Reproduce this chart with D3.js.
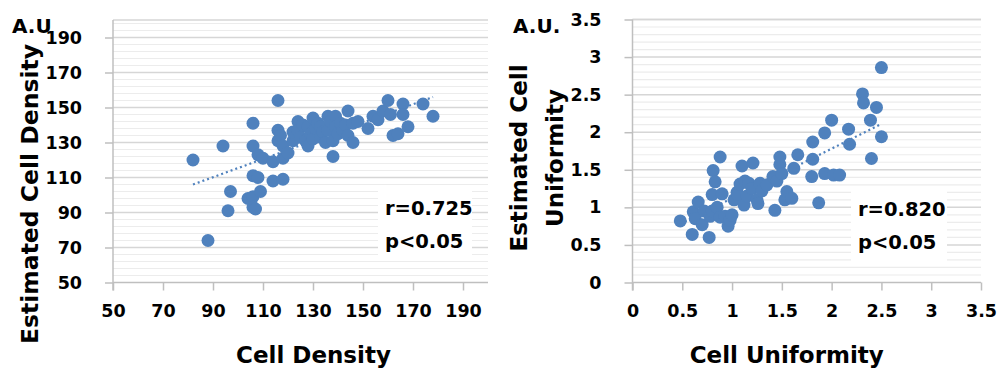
<!DOCTYPE html>
<html><head><meta charset="utf-8">
<script src="https://cdn.jsdelivr.net/npm/d3@7"></script>
<style>
html,body{margin:0;padding:0;background:#fff;}
svg{display:block;}
text{font-family:"DejaVu Sans",sans-serif;font-weight:bold;fill:#000;}
</style></head>
<body>
<svg id="c" width="998" height="370"></svg>
<script>
// ---- data ----
const densityX = [82,88,94,96,97,104,106,106,106,106,106,107,108,108,109,110,114,114,116,116,116,117,118,118,118,120,122,122,124,124,125,126,127,128,128,129,130,130,131,132,133,133,134,135,136,136,137,138,138,139,139,140,141,142,143,144,144,146,146,148,152,154,156,158,160,161,162,164,166,166,168,174,178];
const densityY = [120,74,128,91,102,98,141,128,111,99,93,92,123,110,102,121,119,108,154,137,131,134,121,109,128,124,131,136,142,137,133,140,131,128,139,135,144,132,138,141,139,133,136,130,145,137,142,131,122,145,139,135,141,137,140,148,134,141,130,142,138,145,143,148,154,146,134,135,152,146,139,152,145];
const densityTrend = [[82,106],[178,156]];
const densityTicks = [50,70,90,110,130,150,170,190];
const densityLabels = {r:"r=0.725", p:"p<0.05"};

const uniformX = [0.48,0.6,0.61,0.63,0.66,0.7,0.72,0.77,0.78,0.8,0.8,0.81,0.83,0.85,0.88,0.88,0.9,0.93,0.96,0.98,1.0,1.02,1.05,1.06,1.08,1.1,1.12,1.13,1.15,1.17,1.2,1.21,1.25,1.26,1.28,1.3,1.35,1.41,1.43,1.45,1.48,1.48,1.5,1.53,1.55,1.6,1.62,1.66,1.8,1.81,1.81,1.87,1.93,1.93,2.0,2.02,2.08,2.17,2.18,2.31,2.32,2.39,2.4,2.45,2.5,2.5];
const uniformY = [0.82,0.64,0.94,0.85,1.07,0.77,0.95,0.6,0.88,1.17,0.95,1.49,1.34,1.0,1.67,0.87,1.18,0.88,0.75,0.83,0.9,1.1,1.2,1.17,1.31,1.55,1.03,1.35,1.15,1.32,1.25,1.59,1.1,1.05,1.32,1.22,1.3,1.41,0.96,1.35,1.57,1.67,1.45,1.1,1.21,1.12,1.52,1.7,1.41,1.64,1.87,1.06,1.99,1.45,2.16,1.43,1.43,2.04,1.84,2.51,2.39,2.16,1.65,2.33,2.86,1.94];
const uniformTrend = [[0.48,0.78],[2.5,2.11]];
const uniformTicks = [0,0.5,1,1.5,2,2.5,3,3.5];
const uniformLabels = {r:"r=0.820", p:"p<0.05"};

// ---- drawing ----
const svg = d3.select("#c");
const BLUE = "#4f81bd";

function panel(o){
  const g = svg.append("g");
  const x = d3.scaleLinear().domain(o.xDom).range(o.xRange);
  const y = d3.scaleLinear().domain(o.yDom).range(o.yRange);
  const [x0,x1] = o.xRange, [y0,y1] = o.yRange;
  // minor gridlines
  const minor = d3.range(o.yDom[0], o.yDom[1]+1e-9, o.minor).filter(v => !o.ticks.some(t => Math.abs(t-v) < 1e-9));
  g.selectAll(".mn").data(minor).join("line")
    .attr("x1", x0).attr("x2", x1).attr("y1", d=>y(d)).attr("y2", d=>y(d))
    .attr("stroke", "#ececec").attr("stroke-width", 1.2);
  const major = o.ticks.concat([o.yDom[1]]).filter(v => v !== o.yDom[0]);
  g.selectAll(".mj").data(major).join("line")
    .attr("x1", x0).attr("x2", x1).attr("y1", d=>y(d)).attr("y2", d=>y(d))
    .attr("stroke", "#d6d6d6").attr("stroke-width", 1.5);
  // axes
  const ax = g.append("g").attr("transform", `translate(0,${y0})`)
    .call(d3.axisBottom(x).tickValues(o.ticks).tickSize(8).tickPadding(14).tickFormat(d3.format("")));
  const ay = g.append("g").attr("transform", `translate(${x0},0)`)
    .call(d3.axisLeft(y).tickValues(o.ticks).tickSize(8).tickPadding(o.yPad).tickFormat(d3.format("")));
  [ax, ay].forEach(a => {
    a.select(".domain").attr("stroke", "#bfbfbf").attr("stroke-width", 1.5);
    a.selectAll(".tick line").attr("stroke", "#bfbfbf").attr("stroke-width", 1.5);
    a.selectAll(".tick text").style("font-family", "DejaVu Sans").style("font-weight", "bold")
      .style("font-size", "17.5px").attr("fill", "#000");
  });
  ay.select(".domain").attr("d", `M0,${y1}V${y0+8}`);
  ax.select(".domain").attr("d", `M${x0},0H${x1}`);
  // trend
  g.append("path").datum(o.trend)
    .attr("d", d3.line().x(d=>x(d[0])).y(d=>y(d[1])))
    .attr("fill","none").attr("stroke", BLUE).attr("stroke-width", 2.2)
    .attr("stroke-dasharray", "2 3");
  // points
  g.selectAll("circle").data(o.xs.map((v,i)=>[v,o.ys[i]])).join("circle")
    .attr("cx", d=>x(d[0])).attr("cy", d=>y(d[1])).attr("r", 6.5).attr("fill", BLUE);
  // label box
  g.append("rect").attr("x", o.box[0]).attr("y", o.box[1]).attr("width", o.box[2]).attr("height", o.box[3]).attr("fill", "#fff");
  g.append("text").attr("x", o.box[0]+7).attr("y", o.box[1]+26).style("font-size","19.5px").text(o.labels.r);
  g.append("text").attr("x", o.box[0]+7).attr("y", o.box[1]+59).style("font-size","19.5px").text(o.labels.p);
  // titles
  g.append("text").attr("x", (x0+x1)/2 + o.xTitleDx).attr("y", 363).attr("text-anchor","middle")
    .style("font-size","23px").text(o.xTitle);
  const yt = g.append("text").attr("transform", `translate(${o.yTitleX},${o.yTitleY}) rotate(-90)`)
    .attr("text-anchor","middle").style("font-size", o.yTitleSize);
  o.yTitle.forEach((t,i) => yt.append("tspan").attr("x",0).attr("y", i*36).text(t));
  g.append("text").attr("x", o.au[0]).attr("y", o.au[1]).style("font-size","20px").text(o.au[2]);
}

panel({xDom:[50,200], yDom:[50,200], xRange:[113,488], yRange:[282.5,20], ticks:densityTicks, minor:4,
  xs:densityX, ys:densityY, trend:densityTrend, labels:densityLabels, box:[378,189,94,72],
  xTitle:"Cell Density", xTitleDx:13, yTitle:["Estimated Cell Density"], yTitleX:38, yTitleY:194, yTitleSize:"23.5px",
  au:[12,33,"A.U"], yPad:23});

panel({xDom:[0,3.5], yDom:[0,3.5], xRange:[632.5,981], yRange:[282.5,19.5], ticks:uniformTicks, minor:0.1,
  xs:uniformX, ys:uniformY, trend:uniformTrend, labels:uniformLabels, box:[851,190,96,72],
  xTitle:"Cell Uniformity", xTitleDx:-20, yTitle:["Estimated Cell","Uniformity"], yTitleX:527, yTitleY:158, yTitleSize:"23px",
  au:[513,33,"A.U."], yPad:23});
</script>
</body></html>
